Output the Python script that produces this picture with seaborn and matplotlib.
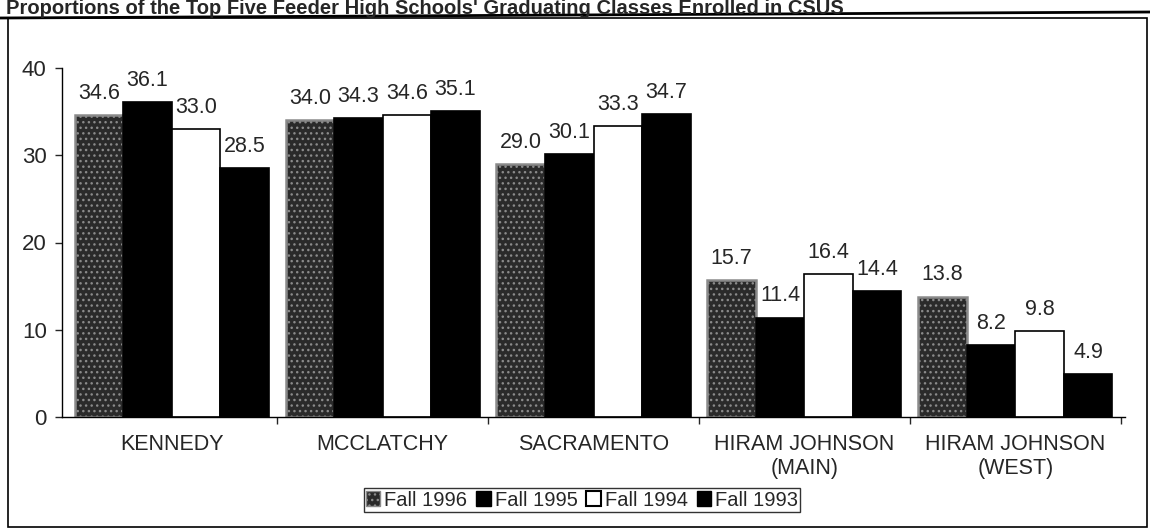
import matplotlib
matplotlib.use("Agg")
import matplotlib.pyplot as plt
import seaborn as sns
import pandas as pd
import numpy as np
from matplotlib.patches import Patch, Rectangle
from matplotlib.lines import Line2D

schools = ["KENNEDY", "MCCLATCHY", "SACRAMENTO", "HIRAM JOHNSON\n(MAIN)", "HIRAM JOHNSON\n(WEST)"]
years = ["Fall 1996", "Fall 1995", "Fall 1994", "Fall 1993"]
fall_1996 = [34.6, 34.0, 29.0, 15.7, 13.8]
fall_1995 = [36.1, 34.3, 30.1, 11.4, 8.2]
fall_1994 = [33.0, 34.6, 33.3, 16.4, 9.8]
fall_1993 = [28.5, 35.1, 34.7, 14.4, 4.9]
y_ticks = [0, 10, 20, 30, 40]
title = "Proportions of the Top Five Feeder High Schools' Graduating Classes Enrolled in CSUS"

series = [fall_1996, fall_1995, fall_1994, fall_1993]
df = pd.DataFrame({
    "School": [s for _ in years for s in schools],
    "Year": [y for y in years for _ in schools],
    "Value": [v for vals in series for v in vals],
})

sns.set_style("white")
plt.rcParams["font.family"] = ["Liberation Sans", "DejaVu Sans"]
plt.rcParams["hatch.linewidth"] = 1.0

fig = plt.figure(figsize=(11.5, 5.29), dpi=100)
ax = fig.add_axes([62/1150, 1-417/529, (1125-62)/1150, (417-68)/529])

face = ["#2a2a2a", "#000000", "#ffffff", "#000000"]
pal = dict(zip(years, face))
sns.barplot(data=df, x="School", y="Value", hue="Year", hue_order=years,
            order=schools, palette=pal, width=0.92, ax=ax, legend=False,
            edgecolor="black", linewidth=1.2, saturation=1)

for i, cont in enumerate(ax.containers):
    for bar in cont:
        if i == 0:
            bar.set_hatch("...")
            bar.set_edgecolor("#8a8a8a")
            bar.set_linewidth(1.8)
        else:
            bar.set_edgecolor("black")
    ax.bar_label(cont, fmt="%.1f", padding=8, fontsize=15.5,
                 bbox=dict(facecolor="white", edgecolor="none", pad=1))

ax.set_ylim(0, 40)
ax.set_xlim(-0.52, 4.52)
ax.set_yticks(y_ticks)
ax.set_xlabel("")
ax.set_ylabel("")
ax.tick_params(axis="y", labelsize=16, length=5, width=1, direction="out", left=True, pad=6)
ax.tick_params(axis="x", which="major", labelsize=15.5, length=0, pad=12)
ax.set_xticks(np.arange(0.5, 4.6, 1.0), minor=True)
ax.tick_params(axis="x", which="minor", length=5, width=1, direction="out", bottom=True)
for s in ["top", "right"]:
    ax.spines[s].set_visible(False)
for s in ["left", "bottom"]:
    ax.spines[s].set_color("black")
    ax.spines[s].set_linewidth(1)

handles = [
    Patch(facecolor=face[0], edgecolor="#8a8a8a", hatch="...", label=years[0]),
    Patch(facecolor=face[1], edgecolor="black", label=years[1]),
    Patch(facecolor=face[2], edgecolor="black", linewidth=1.5, label=years[2]),
    Patch(facecolor=face[3], edgecolor="black", label=years[3]),
]
leg = fig.legend(handles=handles, ncol=4, loc="center", bbox_to_anchor=(582/1150, 1-500/529),
                 frameon=True, fancybox=False, edgecolor="black", fontsize=14.5,
                 handlelength=0.7, handleheight=0.7, handletextpad=0.2, columnspacing=0.45,
                 borderpad=0.1, borderaxespad=0)
leg.get_frame().set_linewidth(1)

# outer frame
fig.add_artist(Rectangle((8/1150, 2/529), 1139/1150, (527-18)/529, transform=fig.transFigure,
                         fill=False, edgecolor="black", linewidth=1.2))
fig.add_artist(Line2D([0, 1], [1-18/529, 1-12/529], transform=fig.transFigure, color="black", linewidth=2))

fig.text(6/1150, 1-14/529, title, fontsize=14.5, fontweight="bold", ha="left", va="baseline")

fig.savefig("out.png", dpi=100)
